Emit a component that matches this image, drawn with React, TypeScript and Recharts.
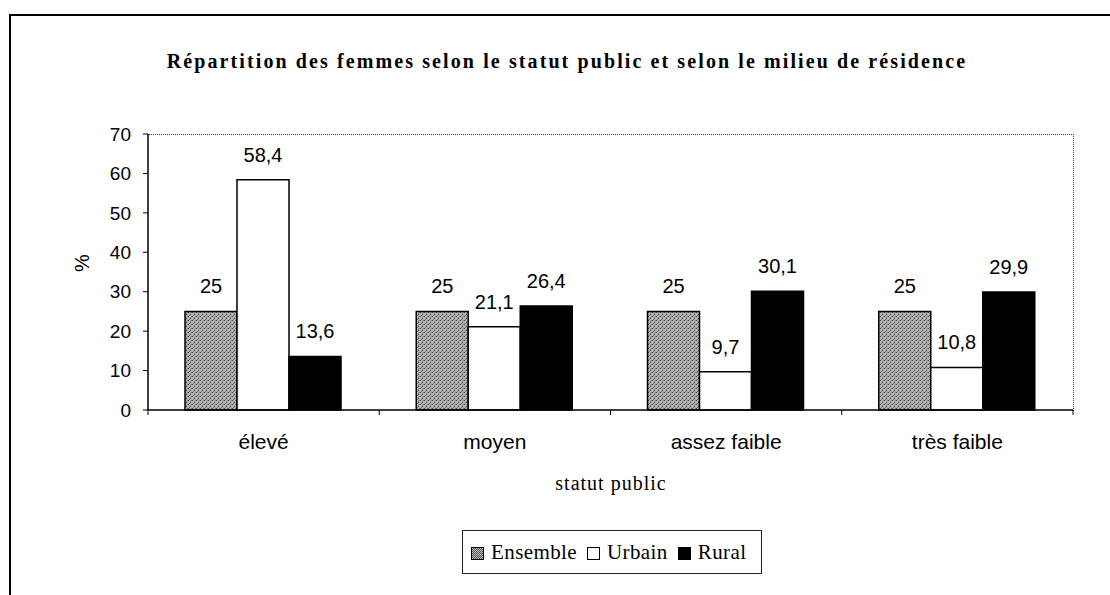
import { BarChart, Bar, XAxis, YAxis, LabelList } from "recharts";

const categories = ["élevé", "moyen", "assez faible", "très faible"];
const ensemble = [25, 25, 25, 25];
const urbain = [58.4, 21.1, 9.7, 10.8];
const rural = [13.6, 26.4, 30.1, 29.9];
const yTicks = [0, 10, 20, 30, 40, 50, 60, 70];

const data = categories.map((cat, i) => ({
  cat,
  ensemble: ensemble[i],
  urbain: urbain[i],
  rural: rural[i],
}));

const sans = "'Liberation Sans', Arial, sans-serif";
const serif = "'Liberation Serif', 'Times New Roman', serif";

const frenchNum = (v: unknown) => String(v).replace(".", ",");

// category tick: label at band centre, small tick mark at band boundary
const CatTick = (props: any) => {
  const { x, y, payload, index } = props;
  const half = payload?.offset ?? 115;
  return (
    <g>
      <line x1={x - half} y1={y} x2={x - half} y2={y + 5} stroke="#000" />
      {index === categories.length - 1 && (
        <line x1={x + half} y1={y} x2={x + half} y2={y + 5} stroke="#000" />
      )}
      <text
        x={x}
        y={y + 39}
        textAnchor="middle"
        fontFamily={sans}
        fontSize={21}
        fill="#000"
      >
        {payload.value}
      </text>
    </g>
  );
};

const legendItems = [
  { label: "Ensemble", key: "ens" },
  { label: "Urbain", key: "urb" },
  { label: "Rural", key: "rur" },
];

function LegendSwatch({ kind }: { kind: string }) {
  const base: React.CSSProperties = {
    display: "inline-block",
    width: 13,
    height: 13,
    border: "1.5px solid #000",
    boxSizing: "border-box",
    marginRight: 7,
    verticalAlign: "-1px",
  };
  if (kind === "ens")
    return (
      <span
        style={{
          ...base,
          background:
            "repeating-conic-gradient(#555 0 25%, #bbb 0 50%) 0 0 / 2px 2px",
        }}
      />
    );
  if (kind === "urb") return <span style={{ ...base, background: "#fff" }} />;
  return <span style={{ ...base, background: "#000" }} />;
}

export default function App() {
  return (
    <div
      style={{
        position: "absolute",
        left: 0,
        top: 0,
        width: 1110,
        height: 595,
        background: "#fff",
        overflow: "hidden",
      }}
    >
      {/* outer frame */}
      <div
        style={{
          position: "absolute",
          left: 9,
          top: 14,
          width: 1110,
          height: 600,
          borderLeft: "2px solid #000",
          borderTop: "2px solid #000",
        }}
      />
      {/* plot box (top/right edges) */}
      <div
        style={{
          position: "absolute",
          left: 148,
          top: 134,
          width: 926,
          height: 277,
          borderTop: "1px dotted #444",
          borderRight: "1px dotted #444",
          boxSizing: "border-box",
        }}
      />
      <div
        style={{
          position: "absolute",
          left: 0,
          width: 1134,
          top: 50,
          textAlign: "center",
          fontFamily: serif,
          fontWeight: "bold",
          fontSize: 20,
          letterSpacing: 2.1,
        }}
      >
        Répartition des femmes selon le statut public et selon le milieu de résidence
      </div>
      <div
        style={{
          position: "absolute",
          left: 0,
          width: 1222,
          top: 472,
          textAlign: "center",
          fontFamily: serif,
          fontSize: 20,
          letterSpacing: 1,
        }}
      >
        statut public
      </div>
      <div
        style={{
          position: "absolute",
          left: 462,
          top: 530,
          width: 300,
          height: 44,
          border: "1px solid #222",
          boxSizing: "border-box",
          fontFamily: serif,
          fontSize: 21,
          letterSpacing: 0.4,
          display: "flex",
          alignItems: "center",
          paddingLeft: 8,
          gap: 10,
        }}
      >
        {legendItems.map((it) => (
          <span key={it.key} style={{ whiteSpace: "nowrap" }}>
            <LegendSwatch kind={it.key} />
            {it.label}
          </span>
        ))}
      </div>
      <div style={{ position: "absolute", left: 0, top: 0 }}>
        <BarChart
          width={1110}
          height={595}
          data={data}
          margin={{ top: 134, right: 37, left: 88, bottom: 135 }}
          barCategoryGap="16%"
          barGap={0}
        >
          <defs>
            <pattern
              id="stipple"
              width="4"
              height="4"
              patternUnits="userSpaceOnUse"
            >
              <rect width="4" height="4" fill="#b4b4b4" />
              <rect x="0" y="0" width="1" height="1" fill="#444" />
              <rect x="2" y="2" width="1" height="1" fill="#444" />
              <rect x="3" y="0" width="1" height="1" fill="#777" />
              <rect x="1" y="3" width="1" height="1" fill="#666" />
              <rect x="2" y="1" width="1" height="1" fill="#888" />
            </pattern>
          </defs>
          <XAxis
            dataKey="cat"
            height={50}
            axisLine={{ stroke: "#000", strokeWidth: 1.5 }}
            tickLine={false}
            tickSize={0}
            tickMargin={0}
            tick={<CatTick />}
            interval={0}
          />
          <YAxis
            width={60}
            domain={[0, 70]}
            ticks={yTicks}
            interval={0}
            axisLine={{ stroke: "#000", strokeWidth: 1.5 }}
            tickLine={{ stroke: "#000" }}
            tickSize={5}
            tickMargin={12}
            tick={{ fill: "#000", fontSize: 19, fontFamily: sans }}
            label={{
              value: "%",
              angle: -90,
              position: "insideLeft",
              offset: -6,
              style: { fill: "#000", fontSize: 20, fontFamily: sans },
            }}
          />
          <Bar
            dataKey="ensemble"
            fill="url(#stipple)"
            stroke="#000"
            strokeWidth={1.5}
            isAnimationActive={false}
          >
            <LabelList
              dataKey="ensemble"
              position="top"
              offset={18}
              formatter={frenchNum}
              style={{ fill: "#000", fontSize: 20, fontFamily: sans }}
            />
          </Bar>
          <Bar
            dataKey="urbain"
            fill="#fff"
            stroke="#000"
            strokeWidth={1.5}
            isAnimationActive={false}
          >
            <LabelList
              dataKey="urbain"
              position="top"
              offset={18}
              formatter={frenchNum}
              style={{ fill: "#000", fontSize: 20, fontFamily: sans }}
            />
          </Bar>
          <Bar
            dataKey="rural"
            fill="#000"
            stroke="#000"
            strokeWidth={1.5}
            isAnimationActive={false}
          >
            <LabelList
              dataKey="rural"
              position="top"
              offset={18}
              formatter={frenchNum}
              style={{ fill: "#000", fontSize: 20, fontFamily: sans }}
            />
          </Bar>
        </BarChart>
      </div>
    </div>
  );
}
